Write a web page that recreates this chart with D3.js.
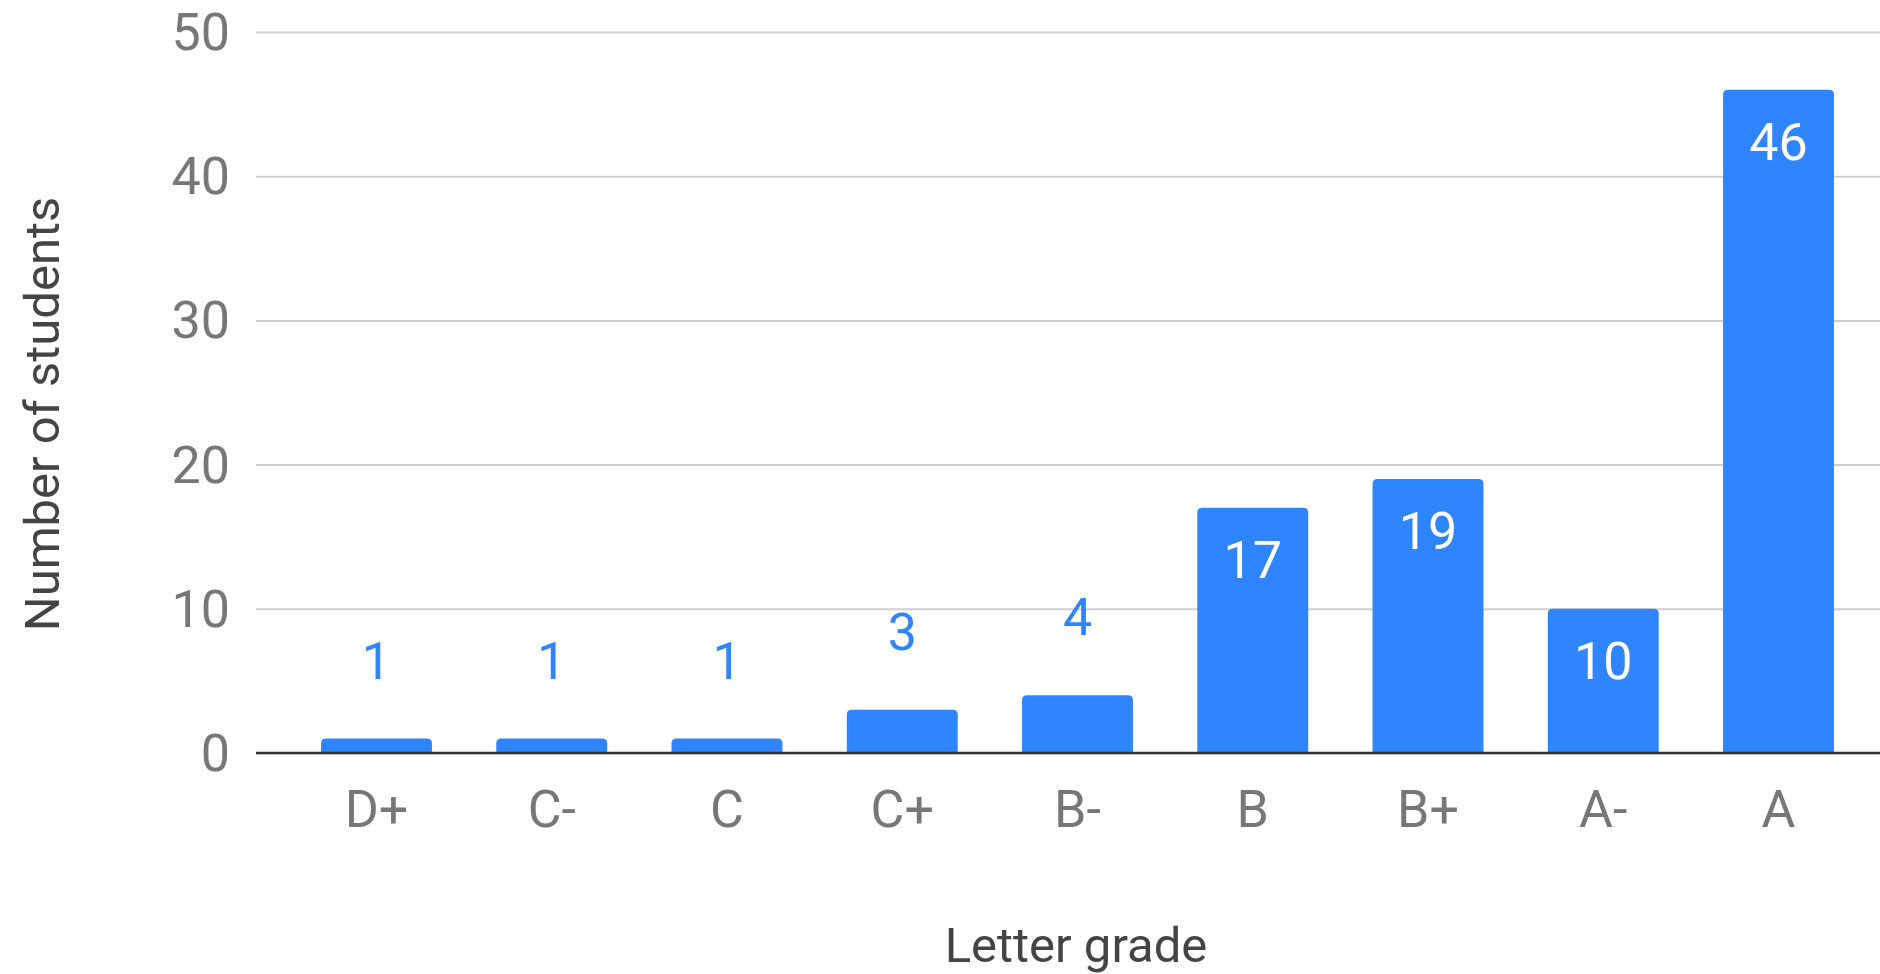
<!DOCTYPE html>
<html>
<head>
<meta charset="utf-8">
<script src="https://cdn.jsdelivr.net/npm/d3@7"></script>
<style>
  html, body { margin: 0; padding: 0; background: #fff; overflow: hidden; }
  svg { display: block; font-family: Roboto, "Noto Sans", sans-serif; }
</style>
</head>
<body>
<svg id="chart" width="1880" height="974"></svg>
<script>
// Grade distribution
const grades = ["D+", "C-", "C", "C+", "B-", "B", "B+", "A-", "A"];
const counts = [1, 1, 1, 3, 4, 17, 19, 10, 46];
const yTicks = [0, 10, 20, 30, 40, 50];
const xTitle = "Letter grade";
const yTitle = "Number of students";

const W = 1880, H = 974;
const plotLeft = 256, plotRight = 1899, plotBase = 753, plotTop = 32;
const barColor = "#2f85ff";
const font = "Roboto, 'Noto Sans', sans-serif";

const svg = d3.select("#chart");

const x = d3.scaleBand()
  .domain(grades)
  .range([plotLeft, plotRight])
  .paddingInner(0.367)
  .paddingOuter(0.371);

const y = d3.scaleLinear()
  .domain([0, 50])
  .range([plotBase, plotTop]);

// horizontal gridlines
const yAxis = d3.axisLeft(y)
  .tickValues(yTicks)
  .tickSize(-(W - plotLeft))
  .tickPadding(24)
  .tickFormat(d3.format("d"));

const gy = svg.append("g")
  .attr("transform", `translate(${plotLeft},0)`)
  .call(yAxis)
  .attr("font-family", font);
gy.select(".domain").remove();
gy.selectAll(".tick line")
  .attr("stroke", "#cfcfcf")
  .attr("stroke-width", 2);
gy.selectAll(".tick text")
  .attr("fill", "#777")
  .attr("font-size", 52)
  .attr("dy", null)
  .attr("dominant-baseline", "central")
  .attr("x", -26);

// category labels
const xAxis = d3.axisBottom(x).tickSize(0).tickPadding(0);
const gx = svg.append("g")
  .attr("transform", `translate(0,${plotBase})`)
  .call(xAxis)
  .attr("font-family", font);
gx.select(".domain").remove();
gx.selectAll(".tick text")
  .attr("fill", "#777")
  .attr("font-size", 52)
  .attr("dy", null)
  .attr("y", 74);

// bars with rounded top corners
const r = 5;
function barPath(d) {
  const x0 = x(d.g), w = x.bandwidth();
  const y0 = y(d.v), h = plotBase - y0;
  const rr = Math.min(r, h, w / 2);
  return `M${x0},${plotBase}V${y0 + rr}Q${x0},${y0} ${x0 + rr},${y0}` +
         `H${x0 + w - rr}Q${x0 + w},${y0} ${x0 + w},${y0 + rr}V${plotBase}Z`;
}
const data = grades.map((g, i) => ({ g, v: counts[i] }));

svg.append("g").selectAll("path")
  .data(data)
  .join("path")
  .attr("d", barPath)
  .attr("fill", barColor);

// baseline
svg.append("line")
  .attr("x1", plotLeft).attr("x2", W)
  .attr("y1", y(0)).attr("y2", y(0))
  .attr("stroke", "#333")
  .attr("stroke-width", 2.5);

// value labels: inside tall bars, above short ones
svg.append("g").selectAll("text")
  .data(data)
  .join("text")
  .attr("x", d => x(d.g) + x.bandwidth() / 2)
  .attr("y", d => d.v >= 10 ? y(d.v) + 70 : y(d.v) - 60)
  .attr("text-anchor", "middle")
  .attr("font-size", 52)
  .attr("fill", d => d.v >= 10 ? "#ffffff" : barColor)
  .text(d => d.v);

// axis titles
svg.append("text")
  .attr("x", 1076).attr("y", 962)
  .attr("text-anchor", "middle")
  .attr("font-size", 49)
  .attr("fill", "#444")
  .text(xTitle);

svg.append("text")
  .attr("transform", "translate(59,414) rotate(-90)")
  .attr("text-anchor", "middle")
  .attr("font-size", 49)
  .attr("fill", "#444")
  .text(yTitle);
</script>
</body>
</html>
